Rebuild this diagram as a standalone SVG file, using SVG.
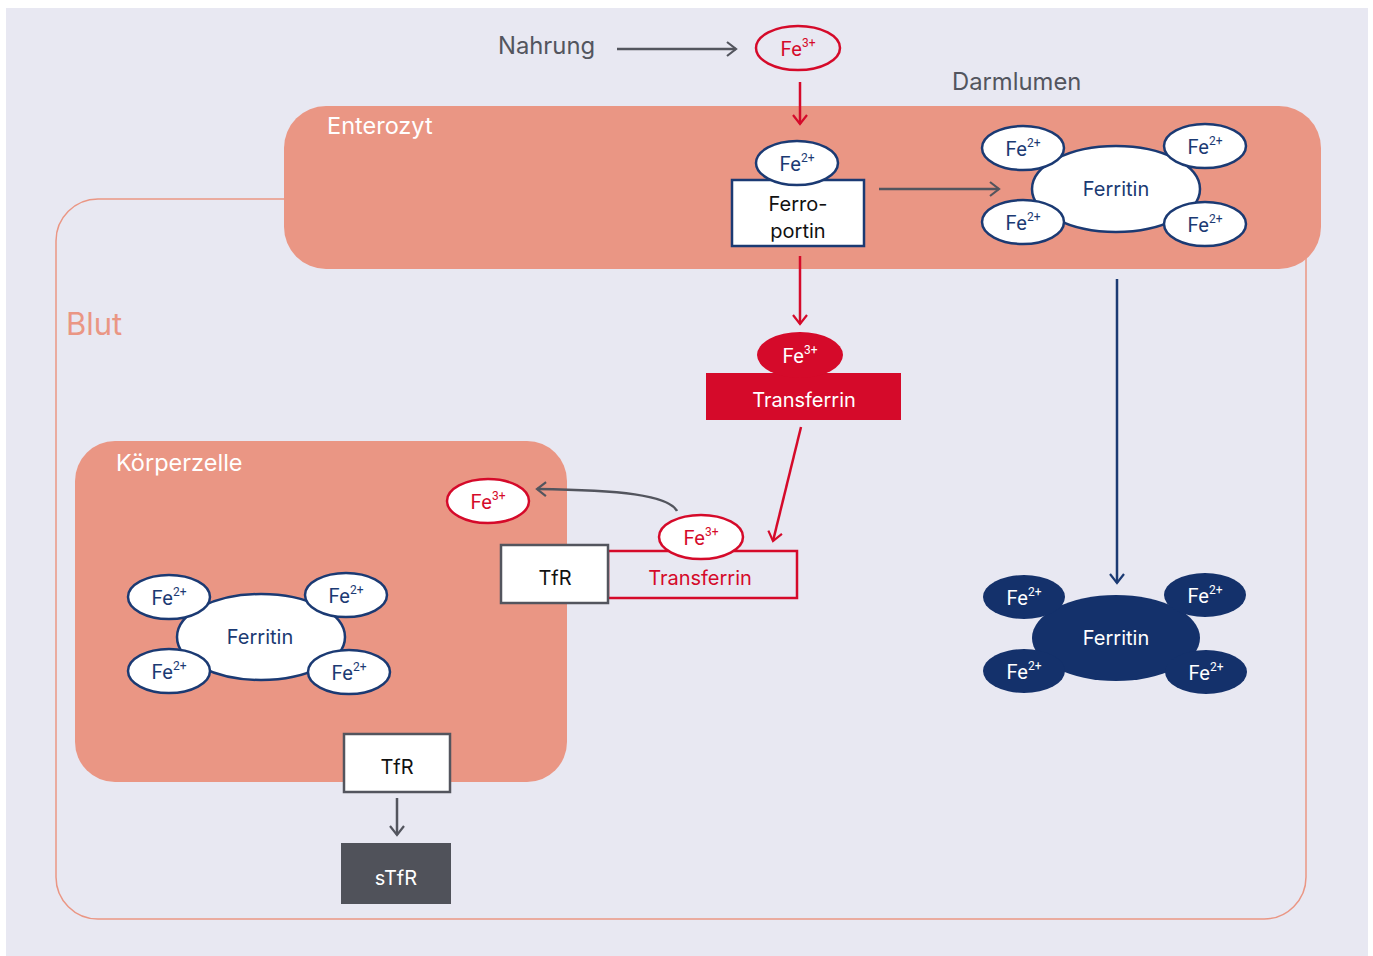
<svg xmlns="http://www.w3.org/2000/svg" width="1373" height="956" viewBox="0 0 1373 956">
<style>
text{font-family:Inter,Roboto,"Liberation Sans",sans-serif}
.lbl{font-size:23.8px;fill:#53555E}
.fe{font-size:20px;text-anchor:middle;font-family:Roboto,"Liberation Sans",sans-serif}
.sup{font-size:12px}
.cell{fill:#EA9684}
.nv{fill:#fff;stroke:#1B3A73;stroke-width:2.5}
.nvt{fill:#1B3A73}
.rd{stroke:#D50A2A;stroke-width:2.5}
.gy{stroke:#53555E;stroke-width:2.5;fill:none}
.dk{fill:#14316B}
.bx{font-size:20px;text-anchor:middle}
</style>
<defs>
<marker id="ag" markerWidth="16" markerHeight="16" refX="12" refY="8" orient="auto" markerUnits="userSpaceOnUse"><path d="M3,1 L12,8 L3,15" fill="none" stroke="#53555E" stroke-width="2.2"/></marker>
<marker id="ar" markerWidth="16" markerHeight="16" refX="12" refY="8" orient="auto" markerUnits="userSpaceOnUse"><path d="M3,1 L12,8 L3,15" fill="none" stroke="#D50A2A" stroke-width="2.2"/></marker>
<marker id="an" markerWidth="16" markerHeight="16" refX="12" refY="8" orient="auto" markerUnits="userSpaceOnUse"><path d="M3,1 L12,8 L3,15" fill="none" stroke="#1B3A73" stroke-width="2.2"/></marker>
</defs>
<rect x="0" y="0" width="1373" height="956" fill="#fff"/>
<rect x="6" y="8" width="1362" height="948" fill="#E8E8F2"/>
<g id="blut">
<rect x="56" y="199" width="1250" height="720" rx="42" fill="none" stroke="#EA9684" stroke-width="1.5"/>
<text x="66" y="335" font-size="31" fill="#EA9684">Blut</text>
</g>
<g id="enterozyt">
<rect x="284" y="106" width="1037" height="163" rx="42" class="cell"/>
<text x="327" y="134" font-size="23.5" fill="#fff">Enterozyt</text>
</g>
<g id="koerperzelle">
<rect x="75" y="441" width="492" height="341" rx="40" class="cell"/>
<text x="116" y="471" font-size="23.5" fill="#fff">Körperzelle</text>
</g>
<g id="nahrung"><text x="498" y="54" class="lbl">Nahrung</text></g>
<g id="darmlumen"><text x="952" y="90" class="lbl">Darmlumen</text></g>
<g id="connectors">
<line x1="617" y1="49" x2="736" y2="49" class="gy" marker-end="url(#ag)"/>
<line x1="800" y1="82" x2="800" y2="124" class="rd" marker-end="url(#ar)"/>
<line x1="879" y1="189" x2="999" y2="189" class="gy" marker-end="url(#ag)"/>
<line x1="800" y1="256" x2="800" y2="324" class="rd" marker-end="url(#ar)"/>
<line x1="801" y1="427" x2="773" y2="541" class="rd" marker-end="url(#ar)"/>
<path d="M677,511 C668,495 620,490 537,489" class="gy" marker-end="url(#ag)"/>
<line x1="397" y1="798" x2="397" y2="835" class="gy" marker-end="url(#ag)"/>
<line x1="1117" y1="279" x2="1117" y2="583" stroke="#1B3A73" stroke-width="2.5" marker-end="url(#an)"/>
</g>
<g id="fe3-nahrung">
<ellipse cx="798" cy="48" rx="42" ry="22" fill="#E8E8F2" class="rd"/>
<text x="798" y="56" class="fe" fill="#D50A2A">Fe<tspan class="sup" dy="-9">3+</tspan></text>
</g>
<g id="ferroportin">
<rect x="732" y="180" width="132" height="66" class="nv"/>
<ellipse cx="797" cy="163" rx="41" ry="22" class="nv"/>
<text x="797" y="171" class="fe nvt">Fe<tspan class="sup" dy="-9">2+</tspan></text>
<text x="798" y="211" class="bx" fill="#111">Ferro-</text>
<text x="798" y="238" class="bx" fill="#111">portin</text>
</g>
<g id="ferritin-enterozyt">
<ellipse cx="1116" cy="189" rx="84" ry="43" class="nv"/>
<text x="1116" y="196" class="bx nvt">Ferritin</text>
<ellipse cx="1023" cy="148" rx="41" ry="22" class="nv"/>
<text x="1023" y="156" class="fe nvt">Fe<tspan class="sup" dy="-9">2+</tspan></text>
<ellipse cx="1205" cy="146" rx="41" ry="22" class="nv"/>
<text x="1205" y="154" class="fe nvt">Fe<tspan class="sup" dy="-9">2+</tspan></text>
<ellipse cx="1023" cy="222" rx="41" ry="22" class="nv"/>
<text x="1023" y="230" class="fe nvt">Fe<tspan class="sup" dy="-9">2+</tspan></text>
<ellipse cx="1205" cy="224" rx="41" ry="22" class="nv"/>
<text x="1205" y="232" class="fe nvt">Fe<tspan class="sup" dy="-9">2+</tspan></text>
</g>
<g id="transferrin-blut">
<rect x="706" y="373" width="195" height="47" fill="#D50A2A"/>
<ellipse cx="800" cy="355" rx="43" ry="23" fill="#D50A2A"/>
<text x="800" y="363" class="fe" fill="#fff">Fe<tspan class="sup" dy="-9">3+</tspan></text>
<text x="804" y="407" class="bx" fill="#fff">Transferrin</text>
</g>
<g id="tfr-transferrin">
<rect x="608" y="551" width="189" height="47" fill="none" class="rd"/>
<text x="700" y="585" class="bx" fill="#D50A2A">Transferrin</text>
<ellipse cx="701" cy="537" rx="42" ry="22" fill="#fff" class="rd"/>
<text x="701" y="545" class="fe" fill="#D50A2A">Fe<tspan class="sup" dy="-9">3+</tspan></text>
<rect x="501" y="545" width="107" height="58" fill="#fff" stroke="#53555E" stroke-width="2.5"/>
<text x="555" y="585" class="bx" fill="#111">TfR</text>
</g>
<g id="fe3-zelle">
<ellipse cx="488" cy="501" rx="41" ry="22" fill="#fff" class="rd"/>
<text x="488" y="509" class="fe" fill="#D50A2A">Fe<tspan class="sup" dy="-9">3+</tspan></text>
</g>
<g id="ferritin-zelle">
<ellipse cx="261" cy="637" rx="84" ry="43" class="nv"/>
<text x="260" y="644" class="bx nvt">Ferritin</text>
<ellipse cx="169" cy="597" rx="41" ry="22" class="nv"/>
<text x="169" y="605" class="fe nvt">Fe<tspan class="sup" dy="-9">2+</tspan></text>
<ellipse cx="346" cy="595" rx="41" ry="22" class="nv"/>
<text x="346" y="603" class="fe nvt">Fe<tspan class="sup" dy="-9">2+</tspan></text>
<ellipse cx="169" cy="671" rx="41" ry="22" class="nv"/>
<text x="169" y="679" class="fe nvt">Fe<tspan class="sup" dy="-9">2+</tspan></text>
<ellipse cx="349" cy="672" rx="41" ry="22" class="nv"/>
<text x="349" y="680" class="fe nvt">Fe<tspan class="sup" dy="-9">2+</tspan></text>
</g>
<g id="tfr-zelle">
<rect x="344" y="734" width="106" height="58" fill="#fff" stroke="#53555E" stroke-width="2.5"/>
<text x="397" y="774" class="bx" fill="#111">TfR</text>
</g>
<g id="stfr">
<rect x="341" y="843" width="110" height="61" fill="#50525A"/>
<text x="396" y="885" class="bx" fill="#fff">sTfR</text>
</g>
<g id="ferritin-blut">
<ellipse cx="1116" cy="638" rx="84" ry="43" class="dk"/>
<text x="1116" y="645" class="bx" fill="#fff">Ferritin</text>
<ellipse cx="1024" cy="597" rx="41" ry="22" class="dk"/>
<text x="1024" y="605" class="fe" fill="#fff">Fe<tspan class="sup" dy="-9">2+</tspan></text>
<ellipse cx="1205" cy="595" rx="41" ry="22" class="dk"/>
<text x="1205" y="603" class="fe" fill="#fff">Fe<tspan class="sup" dy="-9">2+</tspan></text>
<ellipse cx="1024" cy="671" rx="41" ry="22" class="dk"/>
<text x="1024" y="679" class="fe" fill="#fff">Fe<tspan class="sup" dy="-9">2+</tspan></text>
<ellipse cx="1206" cy="672" rx="41" ry="22" class="dk"/>
<text x="1206" y="680" class="fe" fill="#fff">Fe<tspan class="sup" dy="-9">2+</tspan></text>
</g>
</svg>
